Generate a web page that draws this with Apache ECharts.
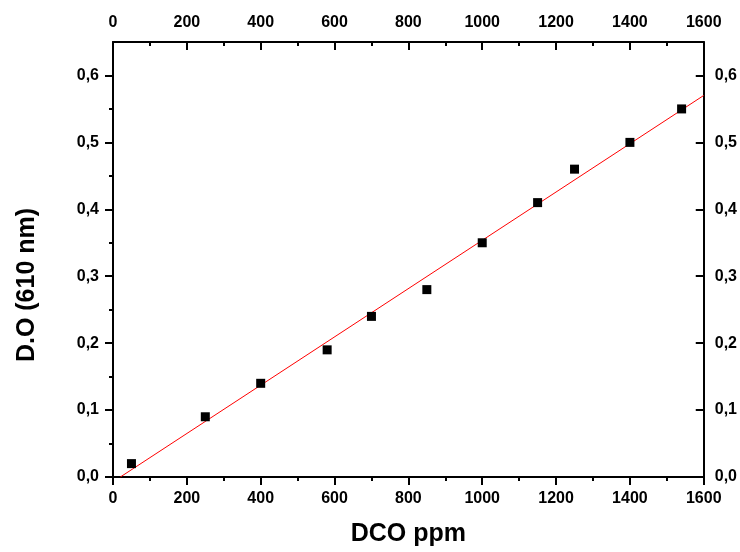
<!DOCTYPE html>
<html>
<head>
<meta charset="utf-8">
<script src="https://cdn.jsdelivr.net/npm/echarts@6/dist/echarts.min.js"></script>
<style>
  html, body { margin: 0; padding: 0; background: #fff; }
  #chart { width: 740px; height: 552px; }
</style>
</head>
<body>
<div id="chart"></div>
<script>
// Measured absorbance (610 nm) against DCO concentration (ppm)
const dcoPpm = [50, 250, 400, 580, 700, 850, 1000, 1150, 1250, 1400, 1540];
const absorbance = [0.02, 0.09, 0.14, 0.19, 0.24, 0.28, 0.35, 0.41, 0.46, 0.50, 0.55];

// Axis ranges and tick positions
const xRange = [0, 1600];
const xStep = 200;
const yRange = [0, 0.65];
const yMajorTicks = [0, 0.1, 0.2, 0.3, 0.4, 0.5, 0.6];
const yMinorTicks = [0.05, 0.15, 0.25, 0.35, 0.45, 0.55];

const xTitle = 'DCO ppm';
const yTitle = 'D.O (610 nm)';

// Least-squares straight line through the measurements
function linearFit(xs, ys) {
  const n = xs.length;
  let sx = 0, sy = 0, sxx = 0, sxy = 0;
  for (let i = 0; i < n; i++) {
    sx += xs[i]; sy += ys[i];
    sxx += xs[i] * xs[i]; sxy += xs[i] * ys[i];
  }
  const slope = (n * sxy - sx * sy) / (n * sxx - sx * sx);
  const intercept = (sy - slope * sx) / n;
  return { slope, intercept };
}
const fit = linearFit(dcoPpm, absorbance);
const fitStartX = Math.max(xRange[0], -fit.intercept / fit.slope);
const fitLine = [
  [fitStartX, fit.slope * fitStartX + fit.intercept],
  [xRange[1], fit.slope * xRange[1] + fit.intercept]
];

const points = dcoPpm.map((x, i) => [x, absorbance[i]]);

const FONT = 'Liberation Sans, Arial, sans-serif';
const labelStyle = { color: '#000', fontFamily: FONT, fontWeight: 'bold', fontSize: 16 };
const lineStyle = { color: '#000', width: 2 };
const commaFmt = v => v.toFixed(1).replace('.', ',');
const plainFmt = v => String(v);

function xAxisDef(position, inside, margin) {
  return {
    type: 'value', position: position,
    min: xRange[0], max: xRange[1], interval: xStep,
    axisLine: { show: true, onZero: false, lineStyle: lineStyle },
    axisTick: { show: true, inside: inside, length: 8, lineStyle: { color: '#000', width: 2 } },
    minorTick: { show: true, splitNumber: 2, length: 4, lineStyle: { color: '#000', width: 2 } },
    axisLabel: Object.assign({ margin: margin, formatter: plainFmt }, labelStyle),
    splitLine: { show: false }
  };
}

function yMajorAxis(position, inside, margin) {
  return {
    type: 'value', position: position,
    min: yRange[0], max: yRange[1],
    axisLine: { show: true, onZero: false, lineStyle: lineStyle },
    axisTick: { show: true, inside: inside, length: 8, customValues: yMajorTicks,
                lineStyle: { color: '#000', width: 2 } },
    axisLabel: Object.assign({ margin: margin, customValues: yMajorTicks,
                               formatter: commaFmt }, labelStyle),
    splitLine: { show: false }
  };
}

function yMinorAxis(position, inside) {
  return {
    type: 'value', position: position,
    min: yRange[0], max: yRange[1],
    axisLine: { show: false },
    axisTick: { show: true, inside: inside, length: 4, customValues: yMinorTicks,
                lineStyle: { color: '#000', width: 2 } },
    axisLabel: { show: false },
    splitLine: { show: false }
  };
}

const chart = echarts.init(document.getElementById('chart'), null, { renderer: 'canvas' });

const bottomX = xAxisDef('bottom', false, 14);
bottomX.name = xTitle;
bottomX.nameLocation = 'middle';
bottomX.nameGap = 45;
bottomX.nameTextStyle = { color: '#000', fontFamily: FONT, fontWeight: 'bold', fontSize: 25 };

chart.setOption({
  animation: false,
  backgroundColor: '#ffffff',
  grid: { left: 113, right: 36, top: 42, bottom: 74, containLabel: false },
  xAxis: [bottomX, xAxisDef('top', true, 11)],
  yAxis: [
    yMajorAxis('left', false, 14),
    yMajorAxis('right', true, 11),
    yMinorAxis('left', false),
    yMinorAxis('right', true)
  ],
  graphic: [{
    type: 'text',
    x: 27, y: 285,
    rotation: Math.PI / 2,
    style: {
      text: yTitle,
      fill: '#000',
      font: 'bold 25px ' + FONT,
      textAlign: 'center',
      textVerticalAlign: 'middle'
    }
  }],
  series: [
    {
      name: 'fit', type: 'line',
      xAxisIndex: 0, yAxisIndex: 0,
      data: fitLine,
      symbol: 'none',
      lineStyle: { color: '#ff0000', width: 1 },
      z: 2
    },
    {
      name: 'DCO', type: 'scatter',
      xAxisIndex: 0, yAxisIndex: 0,
      data: points,
      symbol: 'rect', symbolSize: 9,
      itemStyle: { color: '#000', opacity: 1 },
      z: 3
    }
  ]
});
</script>
</body>
</html>
